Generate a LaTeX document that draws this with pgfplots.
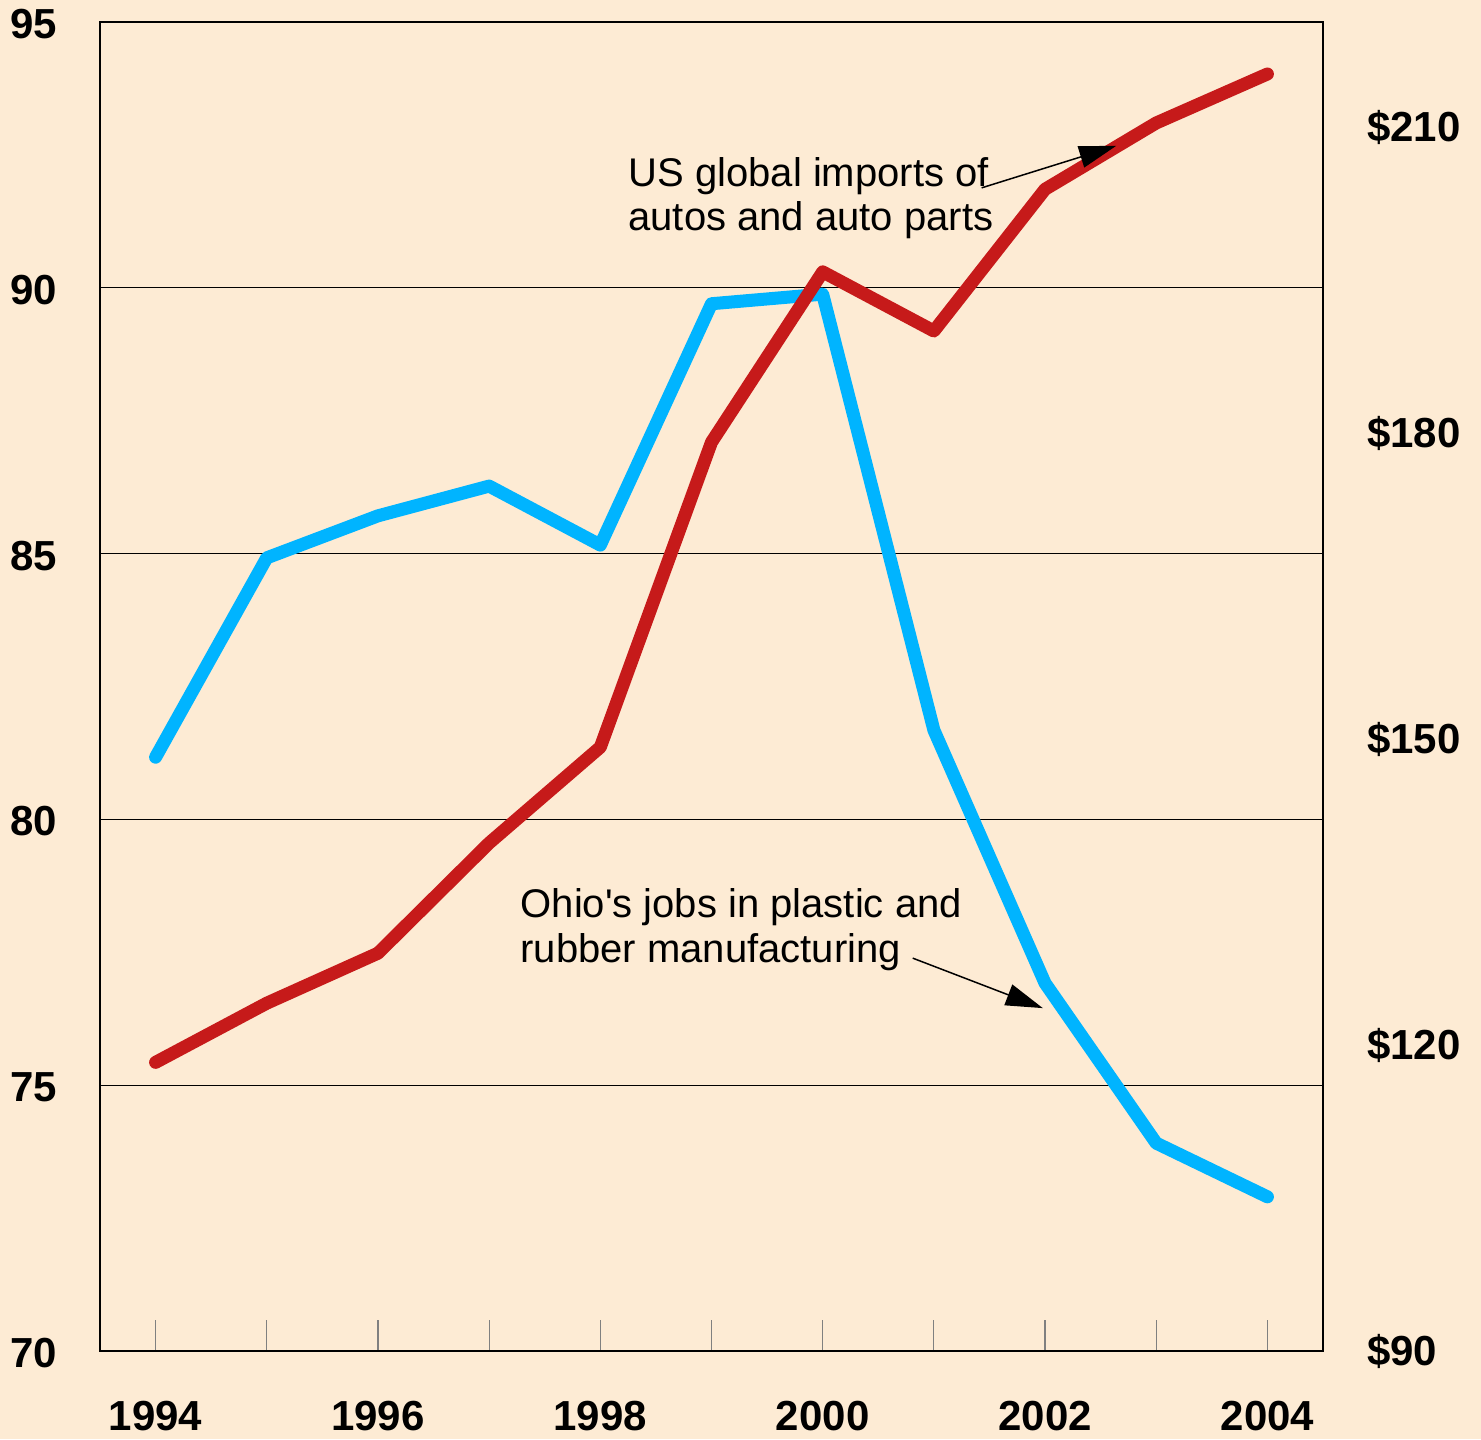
\documentclass[border=0pt]{standalone}
\usepackage{pgfplots}
\pgfplotsset{compat=1.18}
\usepackage{fontspec}
\setmainfont{Liberation Sans}
\usetikzlibrary{arrows.meta}
\definecolor{bg}{RGB}{253,235,212}
\definecolor{bl}{RGB}{0,180,255}
\definecolor{rd}{RGB}{198,26,26}
\begin{document}
\begin{tikzpicture}
\fill[bg] (-50pt,-44pt) rectangle (690.5pt,675.5pt);
\begin{axis}[
  at={(0,0)}, anchor=south west,
  scale only axis, width=611.5pt, height=664.5pt,
  xmin=1993.5, xmax=2004.5, ymin=70, ymax=95,
  clip=false,
  xtick={1994,1995,1996,1997,1998,1999,2000,2001,2002,2003,2004},
  xticklabels={1994,,1996,,1998,,2000,,2002,,2004},
  xtick pos=left, tick align=inside,
  major tick length=15.5pt,
  xtick style={draw=gray, line width=0.6pt},
  ytick={70,75,80,85,90,95},
  yticklabels={70,75,80,85,90,95},
  ytick pos=left, ytick style={draw=none},
  ymajorgrids, major grid style={black, line width=0.5pt},
  axis line style={line width=1pt},
  ticklabel style={font=\fontsize{21}{25}\selectfont\bfseries},
  xticklabel style={yshift=-21.5pt},
  yticklabel style={xshift=-18pt, yshift=-1pt},
]
\addplot[bl, line width=6.5pt, line join=round, line cap=round] coordinates {
(1994,81.17) (1995,84.92) (1996,85.71) (1997,86.27) (1998,85.16) (1999,89.70)
(2000,89.88) (2001,81.68) (2002,76.92) (2003,73.91) (2004,72.90)};
\node[anchor=base west, inner sep=0, font=\fontsize{20}{24}\selectfont] at (axis cs:1998.25,91.91) {US global imports of};
\node[anchor=base west, inner sep=0, font=\fontsize{20}{24}\selectfont] at (axis cs:1998.25,91.07) {autos and auto parts};
\node[anchor=base west, inner sep=0, font=\fontsize{20}{24}\selectfont] at (axis cs:1997.28,78.15) {Ohio\textquotesingle s jobs in plastic and};
\node[anchor=base west, inner sep=0, font=\fontsize{20}{24}\selectfont] at (axis cs:1997.28,77.30) {rubber manufacturing};
\coordinate (a1s) at (axis cs:2001.43,91.88);
\coordinate (a1e) at (axis cs:2002.64,92.67);
\coordinate (a2s) at (axis cs:2000.81,77.39);
\coordinate (a2e) at (axis cs:2001.98,76.45);
\end{axis}
\begin{axis}[
  at={(0,0)}, anchor=south west,
  scale only axis, width=611.5pt, height=664.5pt,
  xmin=1993.5, xmax=2004.5, ymin=90, ymax=220.3,
  clip=false,
  axis x line=none, axis y line*=right,
  ytick={90,120,150,180,210},
  yticklabels={\$90,\$120,\$150,\$180,\$210},
  ytick style={draw=none},
  axis line style={line width=1pt},
  ticklabel style={font=\fontsize{21}{25}\selectfont\bfseries},
  yticklabel style={xshift=18.5pt},
]
\addplot[rd, line width=6.5pt, line join=round, line cap=round] coordinates {
(1994,118.3) (1995,124.1) (1996,129.0) (1997,139.8) (1998,149.2) (1999,179.1)
(2000,195.8) (2001,190.0) (2002,203.9) (2003,210.4) (2004,215.2)};
\end{axis}
\draw[line width=0.75pt, -{Triangle[length=18.5pt,width=11pt]}] (a1s) -- (a1e);
\draw[line width=0.75pt, -{Triangle[length=18.5pt,width=11pt]}] (a2s) -- (a2e);
\pgfresetboundingbox
\path (-50pt,-44pt) rectangle (690.5pt,675.5pt);
\end{tikzpicture}
\end{document}
